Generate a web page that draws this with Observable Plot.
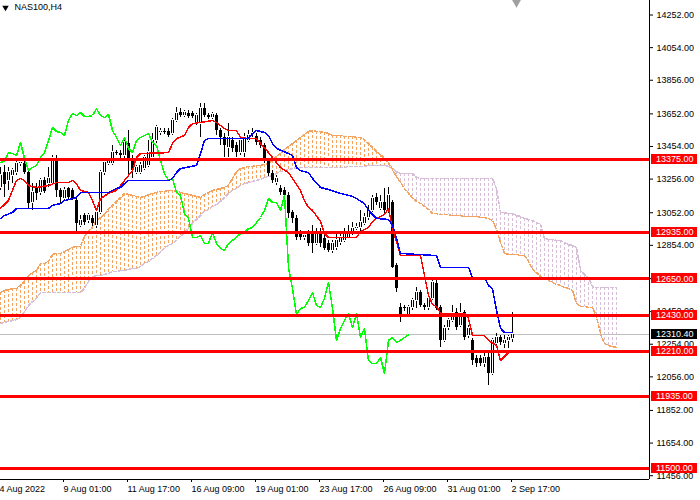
<!DOCTYPE html>
<html><head><meta charset="utf-8">
<script src="https://cdn.jsdelivr.net/npm/d3@7"></script>
<script src="https://cdn.jsdelivr.net/npm/@observablehq/plot@0.6"></script>
<style>
html,body{margin:0;padding:0;background:#fff;}
svg{display:block;}
</style></head><body><div id="chart"></div>
<script>
const symbolTitle = "NAS100,H4";
const open = [13205,13296,13248,13278,13296,13351,13351,13296,13114,13205,
13175,13248,13229,13229,13381,13187,13138,13199,13187,13126,
12975,13035,13005,13017,12975,13053,13296,13351,13351,13417,
13411,13399,13472,13381,13296,13296,13320,13339,13387,13490,
13539,13545,13545,13533,13612,13660,13642,13654,13654,13593,
13593,13684,13642,13630,13642,13551,13509,13448,13490,13460,
13417,13417,13490,13527,13515,13490,13460,13369,13290,13235,
13199,13187,13157,13053,13017,12926,12902,12926,12932,12865,
12932,12896,12865,12823,12841,12871,12884,12902,12932,12956,
12962,12987,13023,13066,13144,13078,13114,13066,13114,12732,
12477,12477,12428,12477,12519,12568,12489,12477,12532,12623,
12477,12277,12356,12398,12447,12368,12447,12307,12277,12168,
12168,12137,12174,12077,12259,12295,12259,12277,12289];
const high = [13326,13339,13326,13320,13363,13381,13369,13308,13229,13229,
13260,13266,13326,13399,13399,13199,13205,13205,13199,13138,
13035,13047,13047,13035,13066,13308,13369,13381,13460,13430,
13430,13490,13551,13399,13339,13357,13399,13490,13533,13581,
13563,13563,13563,13624,13691,13684,13672,13672,13666,13654,
13715,13715,13654,13660,13654,13563,13533,13593,13509,13478,
13502,13533,13551,13563,13533,13509,13472,13381,13308,13278,
13217,13205,13175,13066,13035,12944,12932,12944,12975,12956,
12956,12914,12884,12884,12926,12932,12956,12975,12993,12987,
13066,13047,13096,13157,13169,13157,13199,13205,13126,12744,
12501,12489,12489,12532,12598,12580,12501,12544,12641,12641,
12489,12368,12410,12489,12471,12501,12459,12368,12289,12186,
12186,12216,12216,12289,12319,12307,12307,12307,12447];
const low = [13187,13144,13187,13229,13278,13333,13284,13078,13066,13126,
13157,13169,13205,13217,13144,13108,13126,13132,13126,12932,
12962,12975,12987,12968,12956,13041,13278,13339,13339,13399,
13381,13381,13266,13260,13284,13284,13308,13326,13369,13472,
13521,13527,13509,13521,13600,13630,13630,13624,13624,13581,
13509,13630,13618,13618,13521,13460,13387,13387,13417,13387,
13399,13387,13478,13509,13460,13442,13351,13272,13229,13217,
13157,13138,13017,12987,12884,12884,12884,12847,12805,12853,
12841,12823,12811,12805,12823,12853,12871,12896,12914,12944,
12932,12975,13005,13053,13096,13066,13047,13047,12714,12568,
12386,12453,12416,12459,12471,12477,12459,12459,12519,12459,
12234,12265,12337,12386,12337,12356,12277,12289,12125,12113,
12119,12113,12004,12064,12234,12246,12228,12228,12265];
const close = [13278,13223,13296,13308,13351,13357,13296,13108,13175,13169,
13248,13181,13260,13381,13187,13144,13187,13144,13138,12987,
13005,12993,13035,12987,13053,13296,13357,13363,13417,13411,
13399,13478,13381,13308,13326,13339,13387,13417,13490,13569,
13545,13539,13521,13612,13654,13642,13660,13636,13636,13642,
13684,13642,13630,13648,13551,13509,13460,13509,13442,13417,
13490,13509,13521,13533,13478,13460,13369,13290,13248,13260,
13175,13157,13047,13017,12902,12902,12914,12865,12865,12932,
12865,12835,12823,12865,12884,12902,12926,12932,12956,12962,
12993,13023,13066,13138,13114,13114,13066,13157,12720,12592,
12434,12471,12477,12519,12568,12489,12477,12532,12629,12471,
12277,12350,12398,12441,12356,12441,12295,12350,12155,12137,
12137,12174,12077,12277,12295,12265,12277,12295,12310.4];

// Ichimoku lines: [bar, price]
const tenkan = [[0,13078],[2,13126],[3,13187],[4,13248],[5,13260],[6,13248],[7,13217],[9,13205],[12,13217],[14,13235],[17,13235],[18,13248],[19,13229],[20,13187],[22,13175],[23,13126],[24,13066],[25,13138],[27,13169],[29,13187],[30,13217],[32,13278],[33,13308],[34,13387],[35,13411],[42,13417],[43,13472],[44,13502],[46,13521],[47,13569],[48,13593],[50,13600],[53,13612],[54,13600],[56,13563],[57,13551],[59,13551],[60,13509],[62,13502],[64,13502],[65,13472],[67,13417],[68,13387],[70,13326],[72,13296],[73,13260],[75,13187],[76,13126],[77,13084],[78,13066],[80,12999],[81,12926],[82,12902],[89,12902],[90,12938],[92,12962],[93,12999],[94,13017],[96,13041],[97,13078],[98,12956],[99,12877],[100,12792],[105,12792],[106,12671],[107,12550],[108,12495],[109,12483],[110,12441],[116,12441],[117,12410],[118,12307],[121,12307],[122,12277],[124,12246],[125,12155],[127,12204],[128,12216]];
const kijun = [[0,13017],[1,13035],[3,13053],[4,13078],[12,13078],[13,13096],[15,13108],[16,13126],[18,13138],[19,13144],[20,13175],[27,13175],[29,13199],[30,13205],[31,13229],[32,13248],[42,13248],[43,13260],[44,13296],[45,13320],[49,13339],[50,13411],[51,13490],[52,13502],[62,13502],[63,13533],[64,13551],[66,13539],[67,13521],[68,13472],[69,13442],[72,13411],[73,13399],[74,13326],[75,13308],[77,13296],[78,13260],[80,13205],[82,13193],[85,13169],[88,13151],[89,13138],[91,13108],[92,13066],[94,13017],[97,13011],[98,12975],[99,12896],[100,12805],[109,12792],[110,12720],[117,12720],[118,12659],[121,12659],[122,12610],[123,12590],[124,12460],[125,12350],[126,12325],[128,12325]];
const spanA = [12568,12580,12586,12592,12592,12610,12635,12671,12689,12701,
12744,12744,12756,12799,12805,12805,12817,12829,12841,12847,
12847,12908,12938,12968,13005,13023,13041,13072,13096,13120,
13144,13169,13163,13157,13151,13144,13151,13163,13169,13175,
13181,13181,13187,13187,13181,13175,13169,13163,13157,13151,
13144,13163,13175,13187,13193,13199,13205,13217,13260,13302,
13320,13326,13333,13333,13339,13339,13345,13351,13369,13393,
13411,13436,13454,13472,13490,13509,13527,13545,13551,13545,
13545,13539,13533,13521,13521,13521,13515,13515,13515,13509,
13509,13496,13472,13448,13424,13405,13381,13357,13314,13272,
13235,13199,13169,13144,13120,13108,13090,13072,13047,13047,
13041,13041,13041,13035,13035,13035,13029,13029,13029,13029,
13023,13023,13017,13005,12950,12871,12805,12799,12799,12799,
12792,12792,12756,12708,12689,12665,12653,12641,12629,12617,
12610,12598,12592,12580,12501,12483,12483,12477,12477,12422,
12319,12259,12246,12240,12234];
const spanB = [12380,12386,12392,12398,12404,12416,12453,12489,12513,12532,
12568,12568,12568,12568,12568,12568,12568,12568,12568,12568,
12568,12592,12635,12665,12671,12671,12677,12683,12695,12695,
12701,12701,12708,12714,12714,12726,12744,12756,12774,12792,
12811,12841,12853,12865,12884,12908,12932,12956,12987,13011,
13035,13060,13072,13090,13102,13120,13144,13169,13187,13199,
13217,13229,13235,13242,13248,13254,13266,13272,13278,13290,
13302,13308,13314,13320,13326,13326,13326,13326,13326,13326,
13326,13326,13326,13326,13326,13326,13326,13333,13333,13333,
13333,13333,13339,13339,13339,13339,13339,13333,13320,13302,
13290,13290,13290,13290,13266,13260,13260,13260,13260,13260,
13260,13260,13260,13260,13260,13260,13260,13260,13260,13260,
13260,13260,13260,13260,13199,13053,13053,13047,13047,13035,
13029,13017,13011,13005,12993,12981,12896,12890,12890,12884,
12884,12871,12859,12853,12841,12701,12677,12659,12604,12598,
12598,12598,12598,12598,12598];
const chikouShift = 26;
const levels = [13375, 12935, 12650, 12430, 12210, 11935, 11500];
const lastPrice = 12310.40;
const priceTicks = [14252,14054,13856,13652,13454,13256,13052,12854,12652,12452,12254,12056,11852,11654,11456];
const timeTickBars = [0,16,32,48,64,80,96,112,128];
const timeTickLabels = ["4 Aug 2022","9 Aug 01:00","11 Aug 17:00","16 Aug 09:00","19 Aug 01:00","23 Aug 17:00","26 Aug 09:00","31 Aug 01:00","2 Sep 17:00"];

// layout
const W = 700, H = 500, MR = 51, MB = 21, BAR_PX = 4;
const xDomain = [0, (W - MR) / BAR_PX];
const yDomain = [11433, 14340];
const FONT = "'Liberation Sans', Arial, sans-serif";
const ORANGE = "#F4A460", THISTLE = "#D8BFD8";
const crisp = {shapeRendering: "crispEdges"};

const bars = open.map((o, i) => ({i, o, h: high[i], l: low[i], c: close[i]}));
const chikou = bars.slice(chikouShift).map(b => ({i: b.i - chikouShift, c: b.c}));
const cloud = spanA.map((a, i) => ({i, a, b: spanB[i]}));
const bull = bars.filter(b => b.c >= b.o);
const bear = bars.filter(b => b.c < b.o);

const plot = Plot.plot({
  width: W, height: H,
  marginLeft: 0, marginRight: MR, marginTop: 0, marginBottom: MB,
  x: {domain: xDomain, axis: null},
  y: {domain: yDomain, axis: null},
  style: {fontFamily: FONT, fontSize: "9px", background: "#fff", color: "#000"},
  marks: [
    // cloud hatching and borders
    Plot.ruleX(cloud.filter(d => d.a >= d.b), {x: "i", y1: "a", y2: "b", stroke: ORANGE, strokeDasharray: "3,2", ...crisp}),
    Plot.ruleX(cloud.filter(d => d.a < d.b), {x: "i", y1: "b", y2: "a", stroke: THISTLE, strokeDasharray: "3,2", ...crisp}),
    Plot.line(cloud, {x: "i", y: "b", stroke: THISTLE, strokeDasharray: "3,2", ...crisp}),
    Plot.line(cloud, {x: "i", y: "a", stroke: ORANGE, strokeDasharray: "3,2", ...crisp}),
    // last price line
    Plot.ruleY([lastPrice], {stroke: "#C0C0C0", ...crisp}),
    // candles: wicks, bodies (3px), hollow centre of bullish bodies
    Plot.ruleX(bars, {x: "i", y1: "l", y2: "h", stroke: "#000", ...crisp}),
    Plot.ruleX(bars, {x: "i", y1: "o", y2: "c", stroke: "#000", strokeWidth: 3, ...crisp}),
    Plot.ruleX(bull, {x: "i", y1: "o", y2: "c", stroke: "#fff", insetTop: 1, insetBottom: 1, ...crisp}),
    // ichimoku lines
    Plot.line(chikou, {x: "i", y: "c", stroke: "#00FF00", ...crisp}),
    Plot.line(tenkan, {x: d => d[0], y: d => d[1], stroke: "#FF0000", ...crisp}),
    Plot.line(kijun, {x: d => d[0], y: d => d[1], stroke: "#0000FF", ...crisp}),
    // horizontal levels
    Plot.ruleY(levels, {stroke: "#FF0000", strokeWidth: 3, ...crisp}),
    // frame lines (right + bottom)
    Plot.ruleX([xDomain[1]], {stroke: "#000", ...crisp}),
    Plot.ruleY([yDomain[0]], {stroke: "#000", ...crisp}),
    // axes
    Plot.axisY(priceTicks, {anchor: "right", label: null, tickSize: 3, tickPadding: 4, tickFormat: d => d.toFixed(2), fill: "#000"}),
    Plot.axisX(timeTickBars, {anchor: "bottom", label: null, tickSize: 3, tickPadding: 3, textAnchor: "start", dx: -1,
      tickFormat: d => timeTickLabels[timeTickBars.indexOf(d)], fill: "#000"}),
    // title
    Plot.dot([symbolTitle], {frameAnchor: "top-left", dx: 5, dy: 7, symbol: "triangle", r: 2.4, rotate: 180, fill: "#000", stroke: null}),
    Plot.text([symbolTitle], {frameAnchor: "top-left", dx: 14, dy: 3, lineAnchor: "top", textAnchor: "start", fill: "#000", fontSize: 9}),
    // chart shift marker
    Plot.dot([bars.length], {x: d => d, frameAnchor: "top", symbol: "triangle", r: 4.6, rotate: 180, fill: "#A0A0A0", stroke: null})
  ]
});

// price labels in the right margin
const ys = plot.scale("y");
const svg = d3.select(plot);
const g = svg.append("g").attr("font-family", FONT).attr("font-size", 9).attr("text-anchor", "start");
const boxX = W - MR + 2, boxW = MR - 5;
function priceLabel(v, bg) {
  const y = ys.apply(v);
  g.append("rect").attr("x", boxX).attr("y", Math.round(y) - 5).attr("width", boxW).attr("height", 10)
    .attr("fill", bg).attr("shape-rendering", "crispEdges");
  g.append("text").attr("x", W - MR + 7).attr("y", y).attr("dy", "0.34em").attr("fill", "#fff").text(v.toFixed(2));
}
levels.forEach(v => priceLabel(v, "#FF0000"));
priceLabel(lastPrice, "#000");

document.getElementById("chart").appendChild(plot);
</script></body></html>
